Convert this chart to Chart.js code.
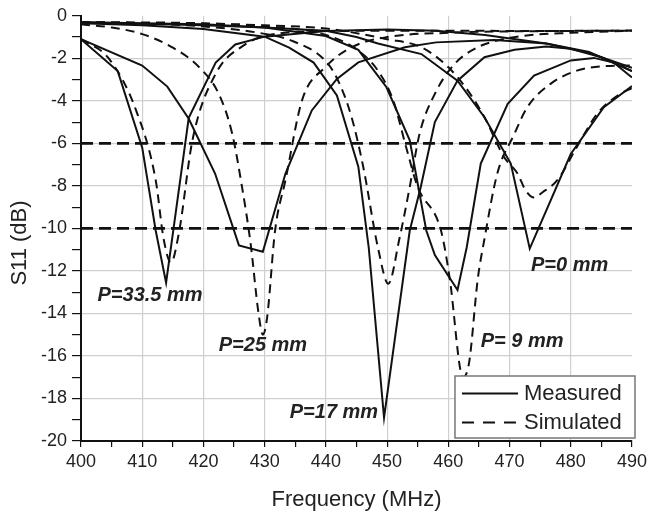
<!DOCTYPE html>
<html>
<head>
<meta charset="utf-8">
<script src="https://cdn.jsdelivr.net/npm/chart.js@4"></script>
<style>
  body { margin: 0; background: #fff; }
</style>
</head>
<body>
<canvas id="s11-chart" width="651" height="517"></canvas>
<script>
// measured curves (polylines)
const freqM335 = [400, 406, 410, 412.2, 413.9, 417.6, 422, 425.2, 430, 440, 450, 458, 466, 476, 483, 490];
const s11M335 = [-1.1, -2.6, -6.2, -10.1, -12.55, -4.8, -2.2, -1.35, -0.98, -0.72, -0.65, -0.7, -0.9, -1.3, -1.75, -2.45];
const freqM25 = [400, 410, 414.1, 417.6, 421.9, 425.8, 429.7, 433.4, 437.7, 441.8, 445.3, 452.9, 458, 467.5, 476, 483, 490];
const s11M25 = [-1.1, -2.34, -3.33, -4.84, -7.42, -10.8, -11.1, -7.42, -4.45, -2.97, -2.19, -1.48, -1.25, -1.14, -1.3, -1.7, -2.6];
const freqM17 = [400, 410, 420, 430, 434, 438, 441.8, 445.3, 447, 449.5, 453.7, 455.5, 457.8, 461.5, 465.9, 470.8, 476, 480, 485, 490];
const s11M17 = [-0.35, -0.45, -0.62, -0.98, -1.5, -2.2, -3.75, -7.1, -10.9, -18.9, -10.1, -8.05, -5.0, -3.05, -1.95, -1.6, -1.45, -1.55, -1.95, -2.6];
const freqM9 = [400, 420, 430, 440, 445.3, 449.9, 453.7, 456.4, 457.8, 461.5, 463, 465.3, 469.7, 474, 480, 483.8, 487, 490];
const s11M9 = [-0.3, -0.45, -0.55, -0.95, -1.6, -3.36, -5.86, -10.1, -11.25, -12.9, -10.9, -6.95, -4.14, -2.81, -2.1, -1.98, -2.2, -2.9];
const freqM0 = [400, 420, 440, 445, 448.5, 455.6, 461.5, 465.9, 470.2, 473.3, 480, 485.4, 490];
const s11M0 = [-0.3, -0.4, -0.7, -1.0, -1.3, -1.8, -3.05, -4.77, -6.95, -10.95, -6.5, -4.3, -3.3];

// simulated curves (smooth)
const freqS335 = [400, 404.6, 409, 412.2, 413.5, 414.7, 416, 418.2, 422, 426.9, 430, 440, 460, 475, 490];
const s11S335 = [-1.1, -2.03, -4.45, -7.73, -10.5, -11.6, -10.2, -5.86, -2.73, -1.33, -0.95, -0.72, -0.7, -0.72, -0.69];
const freqS25 = [400, 405, 410, 414.9, 419.3, 422.5, 424.7, 426.3, 427.7, 429, 429.7, 430.4, 431.7, 433.4, 436.1, 439.9, 444.2, 450, 460, 475, 490];
const s11S25 = [-0.4, -0.55, -0.86, -1.48, -2.42, -3.67, -5.55, -8.05, -10.7, -14.0, -15.0, -14.2, -10.1, -7.73, -3.98, -2.42, -1.48, -1.0, -0.8, -0.72, -0.7];
const freqS17 = [400, 420, 430, 434.4, 439.9, 442, 444.2, 446.1, 448.5, 450.2, 452, 453.7, 455.3, 457.8, 461, 464.8, 467.5, 472, 480, 490];
const s11S17 = [-0.3, -0.5, -0.85, -1.17, -2.11, -3.05, -4.77, -7.1, -10.9, -12.6, -10.5, -8.05, -5.55, -3.67, -2.27, -1.48, -1.2, -0.95, -0.8, -0.7];
const freqS9 = [400, 420, 430, 440, 445.3, 448.5, 451, 453.1, 455, 458.8, 460.2, 462.4, 463.4, 464.8, 465.9, 468, 470.8, 472.9, 476.7, 481, 485, 490];
const s11S9 = [-0.3, -0.35, -0.5, -0.9, -1.64, -2.58, -3.98, -6.17, -8.05, -10.1, -12.3, -17.0, -16.3, -12.4, -10.5, -7.42, -5.55, -4.3, -3.2, -2.58, -2.38, -2.34];
const freqS0 = [400, 430, 440, 450, 455.6, 460, 463.2, 465.9, 469.1, 471.3, 472.6, 474, 475.4, 477.8, 481, 484.3, 488.1, 490];
const s11S0 = [-0.3, -0.45, -0.6, -1.1, -1.48, -2.42, -3.52, -4.77, -6.64, -7.42, -8.2, -8.55, -8.3, -7.73, -6.17, -4.61, -3.67, -3.4];

// -6 dB and -10 dB reference levels
const refLevels = [-6, -10];

const annoText = ['P=33.5 mm', 'P=25 mm', 'P=17 mm', 'P= 9 mm', 'P=0 mm'];
const annoFreq = [402.7, 422.5, 434.1, 465.3, 473.5];
const annoS11 = [-13.15, -15.5, -18.65, -15.3, -11.75];

const pts = (f, s) => f.map((x, i) => ({ x: x, y: s[i] }));

const measured = [[freqM335, s11M335], [freqM25, s11M25], [freqM17, s11M17], [freqM9, s11M9], [freqM0, s11M0]];
const simulated = [[freqS335, s11S335], [freqS25, s11S25], [freqS17, s11S17], [freqS9, s11S9], [freqS0, s11S0]];

let datasets = [];
refLevels.forEach(v => datasets.push({
    data: [{ x: 400, y: v }, { x: 490, y: v }],
    borderColor: '#111',
    borderWidth: 2.6,
    borderDash: [12, 6],
    pointRadius: 0
}));
measured.forEach(c => datasets.push({
    data: pts(c[0], c[1]),
    borderColor: '#111',
    borderWidth: 2,
    tension: 0,
    pointRadius: 0
}));
simulated.forEach(c => datasets.push({
    data: pts(c[0], c[1]),
    borderColor: '#111',
    borderWidth: 2,
    borderDash: [9, 6],
    cubicInterpolationMode: 'monotone',
    pointRadius: 0
}));

const textColor = '#222';

const extras = {
    id: 'extras',
    afterDatasetsDraw(chart) {
        const { ctx, chartArea, scales } = chart;
        ctx.save();
        ctx.fillStyle = textColor;
        ctx.textBaseline = 'middle';

        // curve labels
        ctx.font = 'italic bold 20px "Liberation Sans", Arial, sans-serif';
        ctx.textAlign = 'left';
        annoText.forEach((t, i) => {
            ctx.fillText(t, scales.x.getPixelForValue(annoFreq[i]), scales.y.getPixelForValue(annoS11[i]));
        });

        // legend box
        const w = 180, h = 62;
        const bx = chartArea.right + 3 - w, by = chartArea.bottom - 3 - h;
        ctx.fillStyle = '#fff';
        ctx.fillRect(bx, by, w, h);
        ctx.strokeStyle = '#777';
        ctx.lineWidth = 1.5;
        ctx.strokeRect(bx, by, w, h);
        ctx.strokeStyle = '#111';
        ctx.lineWidth = 2;
        ctx.beginPath();
        ctx.moveTo(bx + 7, by + 17.5);
        ctx.lineTo(bx + 63, by + 17.5);
        ctx.stroke();
        ctx.setLineDash([12, 9]);
        ctx.beginPath();
        ctx.moveTo(bx + 7, by + 46.5);
        ctx.lineTo(bx + 63, by + 46.5);
        ctx.stroke();
        ctx.setLineDash([]);
        ctx.fillStyle = textColor;
        ctx.font = '22px "Liberation Sans", Arial, sans-serif';
        ctx.fillText('Measured', bx + 69, by + 18);
        ctx.fillText('Simulated', bx + 69, by + 47);

        // y axis title
        ctx.translate(20, 243);
        ctx.rotate(-Math.PI / 2);
        ctx.textAlign = 'center';
        ctx.fillText('S11 (dB)', 0, 0);
        ctx.restore();
    }
};

Chart.defaults.font.family = '"Liberation Sans", Arial, sans-serif';

let ctx = document.getElementById('s11-chart').getContext('2d');
// eslint-disable-next-line no-undef
new Chart(ctx, {
    type: 'line',
    data: { datasets: datasets },
    plugins: [extras],
    options: {
        responsive: false,
        animation: false,
        layout: { padding: { top: 15, right: 16, left: 0, bottom: 0 } },
        plugins: {
            legend: { display: false },
            tooltip: { enabled: false }
        },
        scales: {
            x: {
                type: 'linear',
                min: 400,
                max: 490,
                afterFit: s => { s.height = 76; },
                ticks: {
                    stepSize: 5,
                    autoSkip: false,
                    maxRotation: 0,
                    padding: 4,
                    color: textColor,
                    font: { size: 18 },
                    callback: v => (v % 10 === 0 ? String(v) : '')
                },
                grid: {
                    color: c => (c.tick && c.tick.value % 10 === 0 && c.tick.value !== 490 ? '#cfcfcf' : 'rgba(0,0,0,0)'),
                    tickColor: '#111',
                    tickLength: 6,
                    lineWidth: 1.2
                },
                border: { color: '#111', width: 2 },
                title: {
                    display: true,
                    text: 'Frequency (MHz)',
                    color: textColor,
                    font: { size: 22 },
                    padding: { top: 0, bottom: 4 }
                }
            },
            y: {
                min: -20,
                max: 0,
                afterFit: s => { s.width = 81; },
                ticks: {
                    stepSize: 1,
                    autoSkip: false,
                    padding: 5,
                    color: textColor,
                    font: { size: 18 },
                    callback: v => (v % 2 === 0 ? String(v) : '')
                },
                grid: {
                    color: c => (c.tick && c.tick.value % 2 === 0 && c.tick.value !== 0 ? '#cfcfcf' : 'rgba(0,0,0,0)'),
                    tickColor: '#111',
                    tickLength: 9,
                    lineWidth: 1.2
                },
                border: { color: '#111', width: 2 }
            }
        }
    }
});
</script>
</body>
</html>
